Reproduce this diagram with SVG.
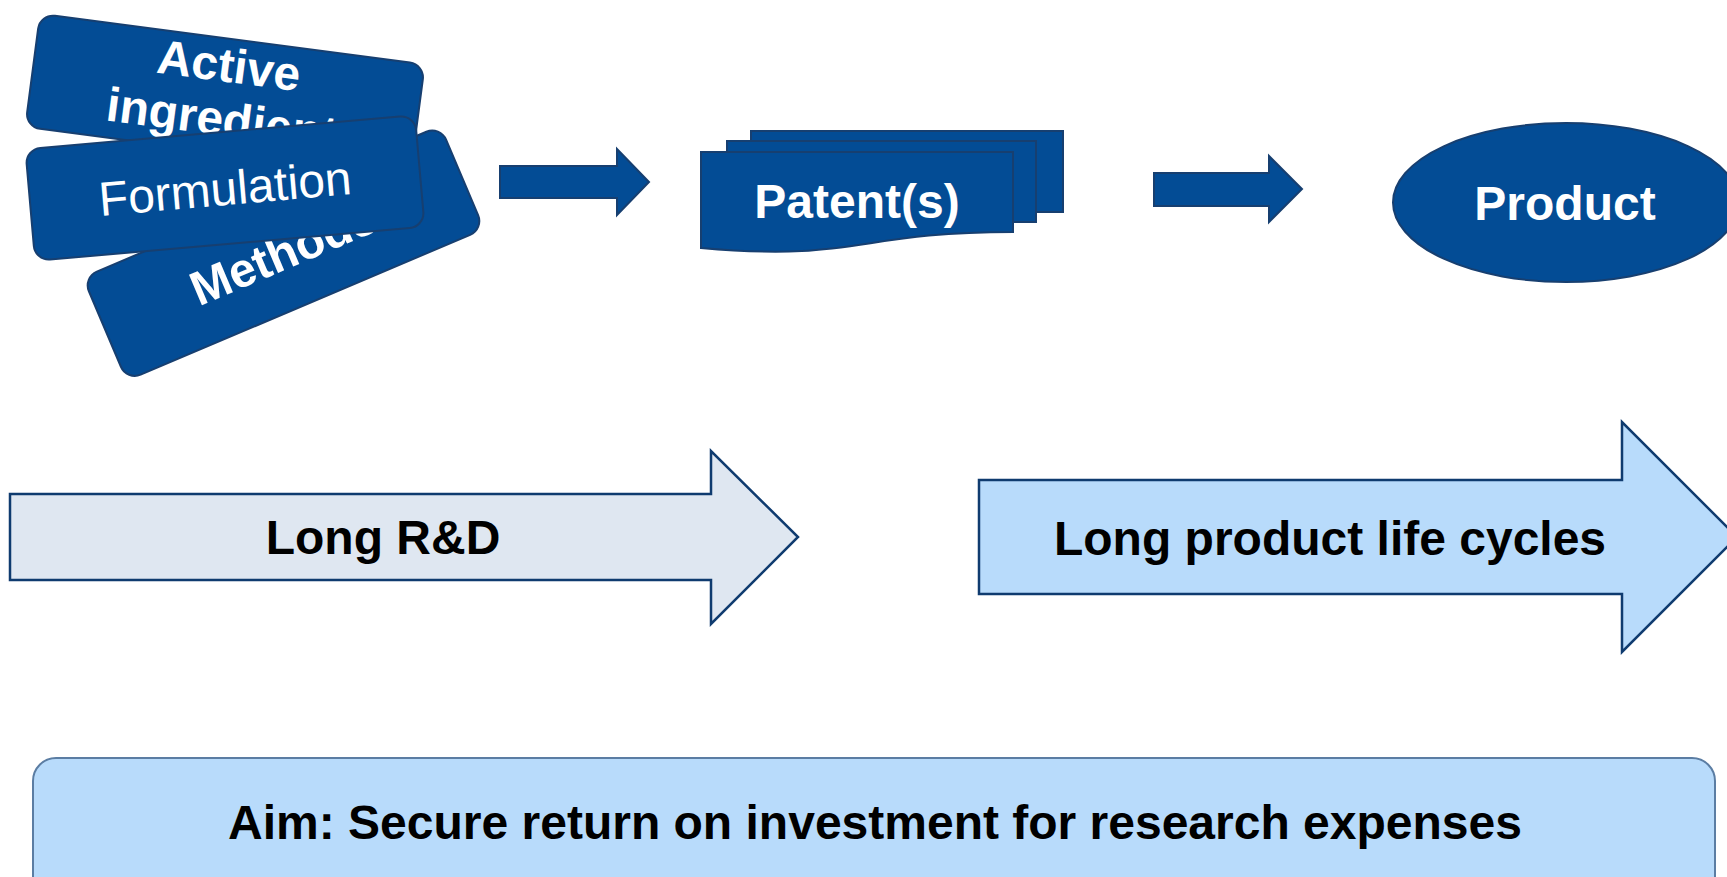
<svg xmlns="http://www.w3.org/2000/svg" width="1727" height="877" viewBox="0 0 1727 877">
<style>
.card{fill:#034C95;stroke:#173F70;stroke-width:2}
.blue{fill:#034C95;stroke:#173F70;stroke-width:2;stroke-linejoin:miter}
.wt{fill:#FFFFFF;font-family:"Liberation Sans",Arial,sans-serif;font-size:48px;text-anchor:middle}
.bk{fill:#000000;font-family:"Liberation Sans",Arial,sans-serif;font-size:48px;font-weight:bold;text-anchor:middle}
.b{font-weight:bold}
.bigarrow{stroke:#0F3B6F;stroke-width:2.5;stroke-linejoin:miter}
</style>
<rect width="1727" height="877" fill="#FFFFFF"/>

<g id="active-ingredient" transform="translate(225,95.7) rotate(7.5)">
  <rect class="card" x="-194" y="-57" width="388" height="114" rx="15"/>
  <text class="wt b" x="0" y="-14">Active</text>
  <text class="wt b" x="0" y="40">ingredient</text>
</g>
<g id="methods" transform="translate(283.5,253.2) rotate(-23)">
  <rect class="card" x="-194" y="-56" width="388" height="112" rx="15"/>
  <text class="wt b" x="0" y="16">Methods</text>
</g>
<g id="formulation" transform="translate(225,188) rotate(-5)">
  <rect class="card" x="-195.5" y="-56" width="391" height="112" rx="15"/>
  <text class="wt" x="0" y="17">Formulation</text>
</g>

<g id="connectors">
  <polygon class="blue" points="500,166 617,166 617,149 649,182 617,215 617,198 500,198"/>
  <polygon class="blue" points="1154,173 1269,173 1269,156 1302,189 1269,222 1269,206 1154,206"/>
</g>

<g id="patents">
  <rect class="blue" x="751" y="131" width="312" height="81"/>
  <rect class="blue" x="727" y="141" width="309" height="81"/>
  <path class="blue" d="M701,152 H1013 V232 C857,232 857,262 701,248 Z"/>
  <text class="wt b" x="857" y="218">Patent(s)</text>
</g>

<g id="product">
  <ellipse class="blue" cx="1566" cy="202.5" rx="173" ry="79.5"/>
  <text class="wt b" x="1565" y="220">Product</text>
</g>

<g id="long-rd">
  <polygon class="bigarrow" fill="#DFE7F1" points="10,494 711,494 711,451 798,537 711,624 711,580 10,580"/>
  <text class="bk" x="383" y="554">Long R&amp;D</text>
</g>

<g id="long-product-life-cycles">
  <polygon class="bigarrow" fill="#B8DBFB" points="979,480 1622,480 1622,422 1737,537 1622,652 1622,594 979,594"/>
  <text class="bk" x="1330" y="555">Long product life cycles</text>
</g>

<g id="aim">
  <rect x="33" y="758" width="1682" height="160" rx="23" fill="#B8DBFB" stroke="#5B7DA3" stroke-width="2"/>
  <text class="bk" x="875" y="839">Aim: Secure return on investment for research expenses</text>
</g>
</svg>
